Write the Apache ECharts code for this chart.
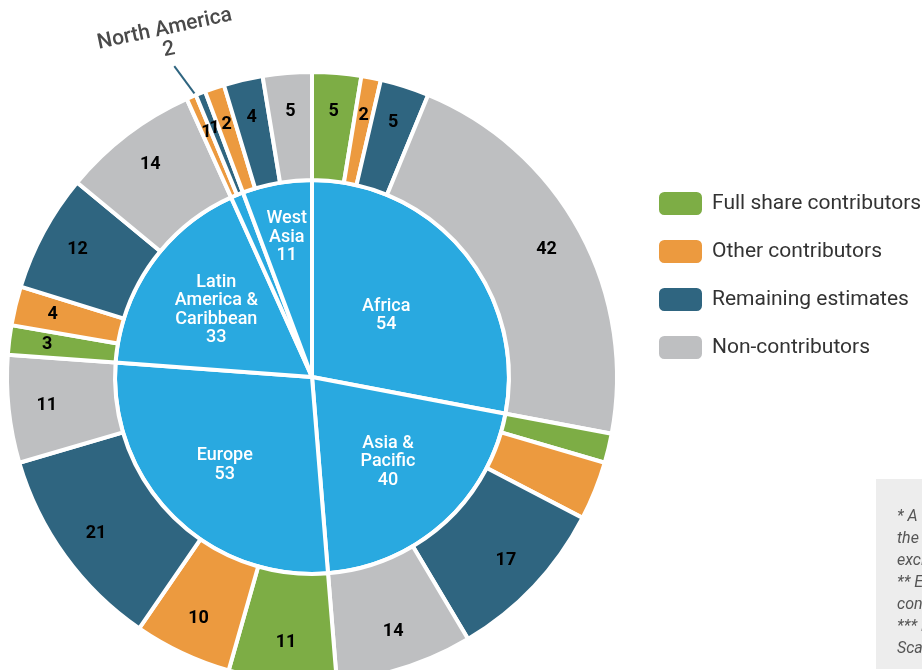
<!DOCTYPE html>
<html>
<head>
<meta charset="utf-8">
<script src="https://cdn.jsdelivr.net/npm/echarts@6/dist/echarts.min.js"></script>
<style>
  html, body { margin: 0; padding: 0; background: #fff; }
  #chart { width: 922px; height: 670px; }
</style>
</head>
<body>
<div id="chart"></div>
<script>
// regions (inner ring), clockwise from 12 o'clock
var regions = ['Africa', 'Asia &\nPacific', 'Europe', 'Latin\nAmerica &\nCaribbean', 'North America', 'West\nAsia'];
var regionTotals = [54, 40, 53, 33, 2, 11];

// breakdown per region (outer ring), same order as regions
var categories = ['Full share contributors', 'Other contributors', 'Remaining estimates', 'Non-contributors'];
var fullShare    = [5,  3, 11,  3, 0, 0];
var otherContrib = [2,  6, 10,  4, 1, 2];
var remaining    = [5, 17, 21, 12, 1, 4];
var nonContrib   = [42, 14, 11, 14, 0, 5];

// outer slices that carry no number in the original (region index, category index)
var unlabeled = [[1, 0], [1, 1]];

var noteLines = [
  '* A total of 193 countries are covered;',
  'the shares are calculated',
  'excluding non-member states.',
  '** Estimates derived from partial',
  'contributions reported by Member States.',
  '*** Based on the UN',
  'Scale of Assessments.'
];

var catColors = ['#7dad45', '#ec9a3f', '#2f6580', '#bebfc1'];
var blue = '#29a9e0';
var CX = 312, CY = 377;
var R_IN = 197, R_OUT = 305;
// how far inner labels are pushed out from the default half radius
var innerLabelPush = [0.95, 1.12, 1.22, 1.15, 1, 1.4];

var chart = echarts.init(document.getElementById('chart'));

function buildInner() {
  var data = [];
  regions.forEach(function (name, i) {
    var item = { name: name, value: regionTotals[i] };
    if (name === 'North America') {
      item.label = {
        position: 'outside',
        formatter: 'North America\n{c}',
        color: '#4a4a4a',
        fontSize: 21,
        fontWeight: 500,
        lineHeight: 21
      };
      item.labelLine = { show: true, length: 20, length2: 0,
        lineStyle: { color: '#2f6580', width: 2 } };
    }
    data.push(item);
  });
  return data;
}

function buildOuter() {
  var data = [];
  var series = [fullShare, otherContrib, remaining, nonContrib];
  regions.forEach(function (r, i) {
    series.forEach(function (vals, c) {
      if (!vals[i]) return;
      var item = { name: categories[c], value: vals[i], itemStyle: { color: catColors[c] } };
      var hide = unlabeled.some(function (u) { return u[0] === i && u[1] === c; });
      if (hide) item.label = { show: false };
      data.push(item);
    });
  });
  return data;
}

// leader line for the thin North America slice: starts at the outer ring edge,
// leans a little further left than the radial direction
function naLeader(pts) {
  var p0 = pts[0];
  var ux = p0[0] - CX, uy = p0[1] - CY;
  var len = Math.sqrt(ux * ux + uy * uy);
  ux /= len; uy /= len;
  var start = [CX + ux * (R_OUT - 1), CY + uy * (R_OUT - 1)];
  var t = 14 * Math.PI / 180;
  var dx = ux * Math.cos(t) + uy * Math.sin(t);
  var dy = -ux * Math.sin(t) + uy * Math.cos(t);
  var end = [start[0] + dx * 37, start[1] + dy * 37];
  return [start, end];
}

var option = {
  animation: false,
  legend: {
    orient: 'vertical',
    left: 652,
    top: 185,
    itemWidth: 45,
    itemHeight: 25,
    itemGap: 21,
    icon: 'roundRect',
    data: categories,
    selectedMode: false,
    textStyle: { fontSize: 21, color: '#333', fontFamily: 'Roboto', padding: [0, 0, 0, 4] }
  },
  graphic: [{
    type: 'rect',
    left: 876, top: 479,
    shape: { width: 80, height: 190 },
    style: { fill: '#ededed' }
  }, {
    type: 'text',
    left: 897, top: 506,
    style: {
      text: noteLines.join('\n'),
      font: 'italic 16px Roboto',
      lineHeight: 22,
      fill: '#555'
    }
  }],
  series: [{
    type: 'pie',
    name: 'Regions',
    center: [CX, CY],
    radius: [0, R_IN],
    startAngle: 90,
    avoidLabelOverlap: false,
    itemStyle: { color: blue, borderColor: '#fff', borderWidth: 4 },
    label: {
      position: 'inside',
      formatter: '{b}\n{c}',
      color: '#fff',
      fontSize: 18,
      fontWeight: 500,
      lineHeight: 18.5,
      fontFamily: 'Roboto'
    },
    labelLine: { show: false },
    labelLayout: function (p) {
      var pts = p.labelLinePoints;
      if (regions[p.dataIndex] === 'North America' && pts) {
        var line = naLeader(pts);
        var end = line[1];
        return { x: end[0] - 3, y: end[1] - 6, align: 'center', verticalAlign: 'bottom',
          rotate: 12, labelLinePoints: line };
      }
      var r = p.labelRect, k = innerLabelPush[p.dataIndex];
      var lx = r.x + r.width / 2, ly = r.y + r.height / 2;
      return { x: CX + (lx - CX) * k, y: CY + (ly - CY) * k };
    },
    data: buildInner()
  }, {
    type: 'pie',
    name: 'Breakdown',
    center: [CX, CY],
    radius: [R_IN, R_OUT],
    startAngle: 90,
    avoidLabelOverlap: false,
    itemStyle: { borderColor: '#fff', borderWidth: 4 },
    label: {
      position: 'inside',
      formatter: '{c}',
      color: '#000',
      fontSize: 18,
      fontWeight: 'bold',
      fontFamily: 'Roboto'
    },
    labelLine: { show: false },
    labelLayout: function (p) {
      var r = p.labelRect, k = 1.05;
      var lx = r.x + r.width / 2, ly = r.y + r.height / 2;
      return { x: CX + (lx - CX) * k, y: CY + (ly - CY) * k };
    },
    data: buildOuter()
  }]
};

chart.setOption(option);
</script>
</body>
</html>
